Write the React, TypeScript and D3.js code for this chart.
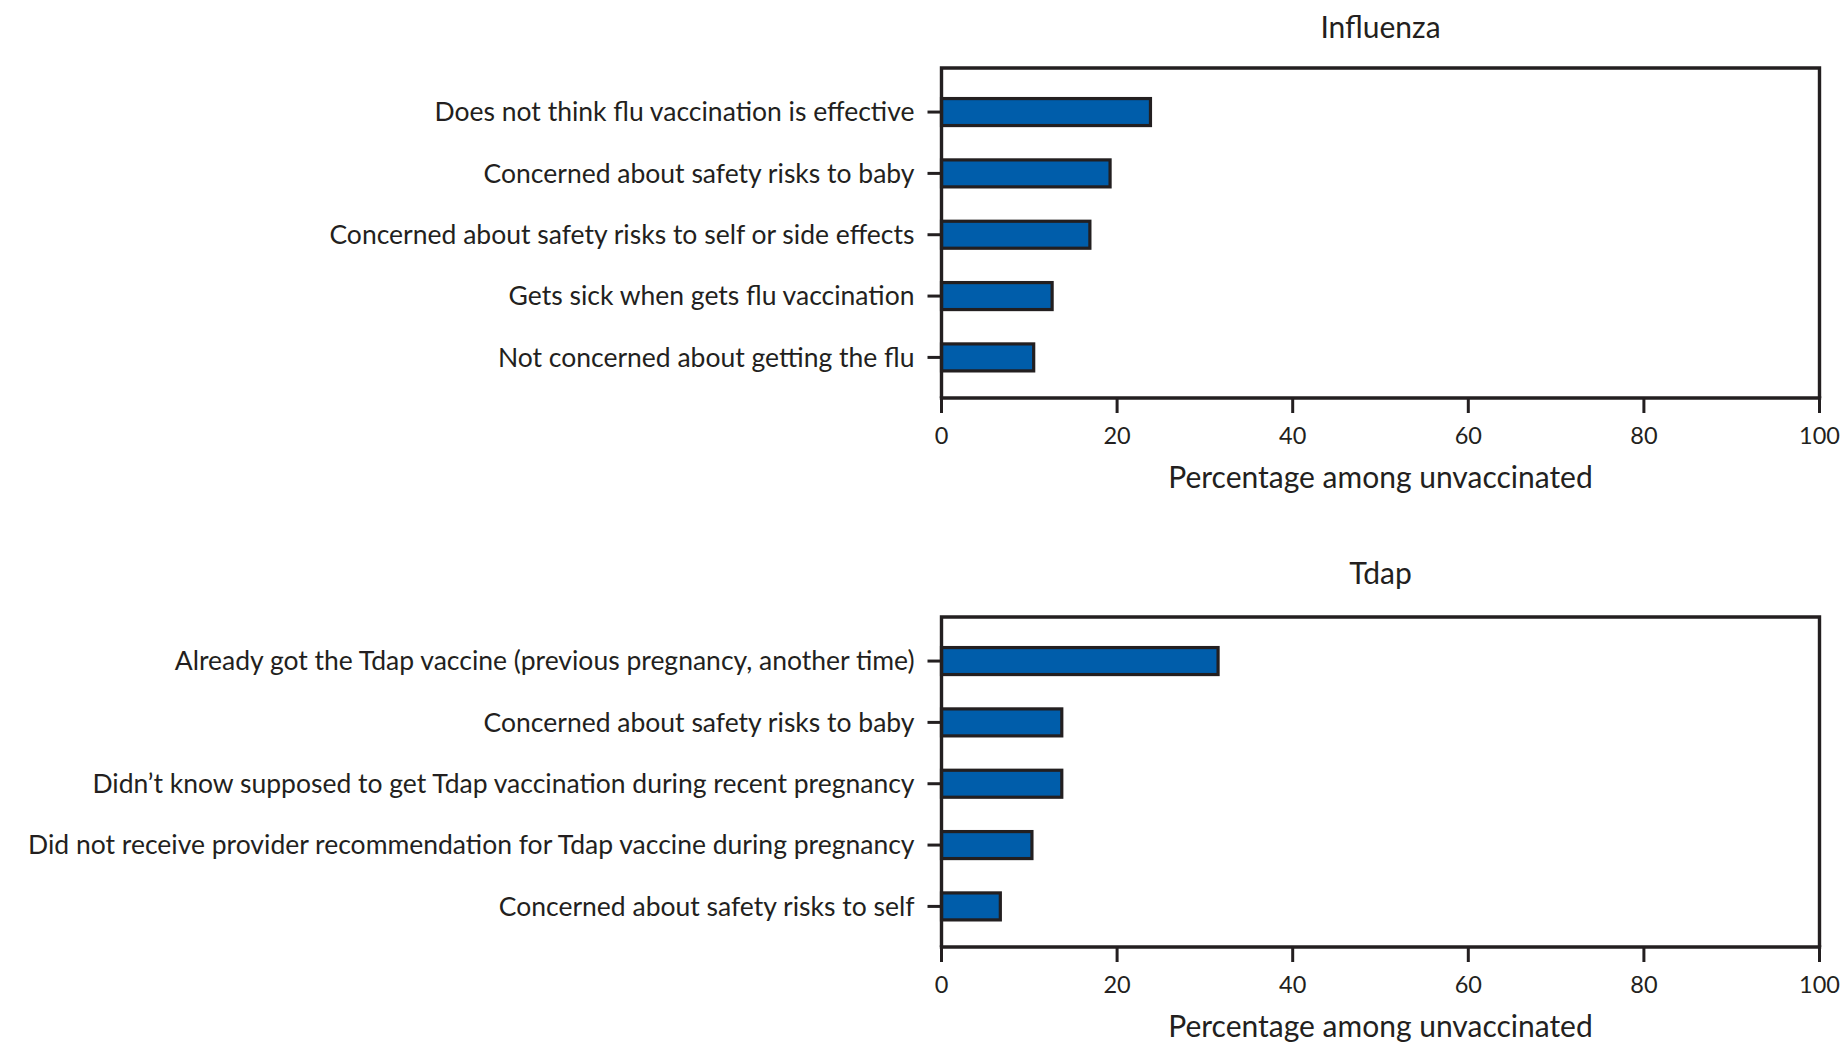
import React from "react";
import * as d3 from "d3";

const fluCategories = [
  "Does not think flu vaccination is effective",
  "Concerned about safety risks to baby",
  "Concerned about safety risks to self or side effects",
  "Gets sick when gets flu vaccination",
  "Not concerned about getting the flu",
];
const fluValues = [23.8, 19.2, 16.9, 12.6, 10.5];

const tdapCategories = [
  "Already got the Tdap vaccine (previous pregnancy, another time)",
  "Concerned about safety risks to baby",
  "Didn\u2019t know supposed to get Tdap vaccination during recent pregnancy",
  "Did not receive provider recommendation for Tdap vaccine during pregnancy",
  "Concerned about safety risks to self",
];
const tdapValues = [31.5, 13.7, 13.7, 10.3, 6.7];

const xTicks = [0, 20, 40, 60, 80, 100];
const panelTitles = ["Influenza", "Tdap"];
const axisTitle = "Percentage among unvaccinated";

const W = 1843;
const H = 1042;
const FONT = "Lato, 'Open Sans', sans-serif";
const INK = "#231f20";
const BLUE = "#005DAA";

const x = d3.scaleLinear().domain([0, 100]).range([941.5, 1819.5]);

function Panel({ top, titleGap, title, cats, vals }: { top: number; titleGap: number; title: string; cats: string[]; vals: number[] }) {
  const bottom = top + 330;
  const y = d3
    .scaleBand<string>()
    .domain(cats)
    .range([top, bottom])
    .paddingInner(0.56)
    .paddingOuter(0.47)
    .align(0.53);
  const [x0, x1] = x.range();
  const cx = (x0 + x1) / 2;
  return (
    <g>
      <text x={cx} y={top - titleGap} textAnchor="middle" fontSize={30} fill={INK} fontFamily={FONT}>
        {title}
      </text>
      {cats.map((c, i) => (
        <g key={c}>
          <rect
            x={x(0)}
            y={y(c)!}
            width={x(vals[i]) - x(0)}
            height={y.bandwidth()}
            fill={BLUE}
            stroke={INK}
            strokeWidth={3.2}
          />
          <line x1={x0 - 14} x2={x0} y1={y(c)! + y.bandwidth() / 2} y2={y(c)! + y.bandwidth() / 2} stroke={INK} strokeWidth={3} />
          <text
            x={x0 - 27}
            y={y(c)! + y.bandwidth() / 2}
            dy="0.35em"
            textAnchor="end"
            fontSize={26.5}
            fill={INK}
            fontFamily={FONT}
          >
            {c}
          </text>
        </g>
      ))}
      <path
        d={`M${x0},${bottom}V${top}H${x1}V${bottom}`}
        fill="none"
        stroke={INK}
        strokeWidth={3.4}
      />
      <line x1={x0 - 1.7} x2={x1 + 1.7} y1={bottom} y2={bottom} stroke={INK} strokeWidth={3.6} />
      {xTicks.map((t) => (
        <g key={t}>
          <line x1={x(t)} x2={x(t)} y1={bottom} y2={bottom + 15} stroke={INK} strokeWidth={3} />
          <text x={x(t)} y={bottom + 46} textAnchor="middle" fontSize={23.5} fill={INK} fontFamily={FONT}>
            {t}
          </text>
        </g>
      ))}
      <text x={cx} y={bottom + 90} textAnchor="middle" fontSize={30} fill={INK} fontFamily={FONT}>
        {axisTitle}
      </text>
    </g>
  );
}

export default function App() {
  return (
    <svg
      width={W}
      height={H}
      viewBox={`0 0 ${W} ${H}`}
      style={{ position: "absolute", left: 0, top: 0, background: "#fff" }}
    >
      <rect width={W} height={H} fill="#fff" />
      <Panel top={68} titleGap={30} title={panelTitles[0]} cats={fluCategories} vals={fluValues} />
      <Panel top={617} titleGap={33} title={panelTitles[1]} cats={tdapCategories} vals={tdapValues} />
    </svg>
  );
}
